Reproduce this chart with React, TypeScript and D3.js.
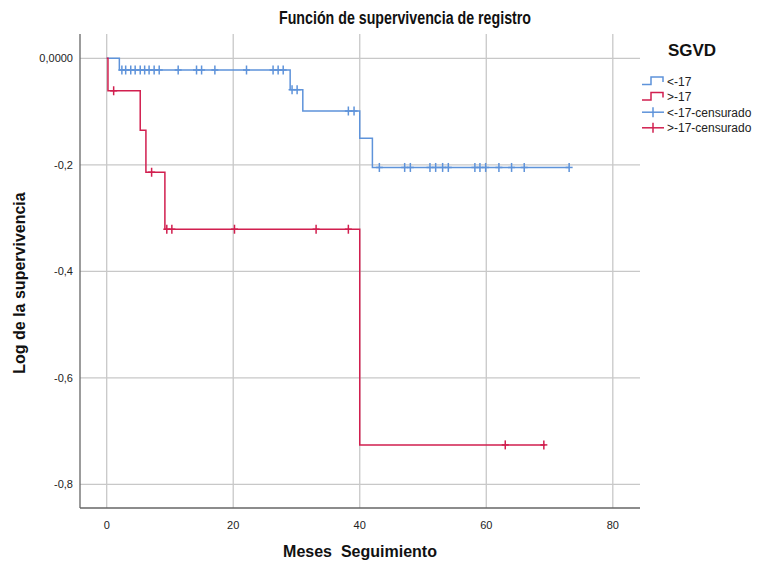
import * as d3 from "d3";
import React from "react";

// step functions (time in months, log survival)
const blueTimes = [0, 2, 29, 31, 40, 42];
const blueLevels = [0, -0.022, -0.059, -0.099, -0.15, -0.205];
const blueEnd = 73.1;
const blueCensored = [
  2.4, 3.0, 3.8, 4.5, 5.3, 6.0, 6.7, 7.5, 8.3, 11.3, 14.2, 15.0, 17.1, 22.1,
  26.3, 27.1, 27.9, 29.3, 30.1, 38.2, 39.1, 43.1, 47.1, 48.0, 51.1, 52.0, 53.1,
  54.0, 58.2, 59.0, 59.9, 62.0, 64.0, 66.0, 73.1,
];

const redTimes = [0, 0.2, 5.3, 6.2, 9.2, 40];
const redLevels = [0, -0.061, -0.135, -0.214, -0.321, -0.726];
const redEnd = 69.3;
const redCensored = [1.1, 7.1, 9.5, 10.3, 20.2, 33.1, 38.2, 63.0, 69.1];

const xTicks = [0, 20, 40, 60, 80];
const yTicks = [0, -0.2, -0.4, -0.6, -0.8];
const yTickLabels = ["0,0000", "-0,2", "-0,4", "-0,6", "-0,8"];

const legendLabels = ["<-17", ">-17", "<-17-censurado", ">-17-censurado"];

const BLUE = "#5e93da";
const RED = "#d11f4f";

const App = () => {
  const width = 766;
  const height = 572;
  const plot = { left: 80, right: 640, top: 34, bottom: 508 };

  const x = d3.scaleLinear().domain([-4.22, 84.3]).range([plot.left, plot.right]);
  const y = d3.scaleLinear().domain([0.0456, -0.8445]).range([plot.top, plot.bottom]);

  const line = d3
    .line<[number, number]>()
    .x((d) => x(d[0]))
    .y((d) => y(d[1]))
    .curve(d3.curveStepAfter);

  const stepPts = (times: number[], levels: number[], end: number) => {
    const pts: [number, number][] = times.map((t, i) => [t, levels[i]]);
    pts.push([end, levels[levels.length - 1]]);
    return pts;
  };

  const levelAt = (times: number[], levels: number[], t: number) => {
    let v = levels[0];
    times.forEach((tt, i) => {
      if (tt <= t) v = levels[i];
    });
    return v;
  };

  const series = [
    { times: blueTimes, levels: blueLevels, end: blueEnd, cens: blueCensored, color: BLUE },
    { times: redTimes, levels: redLevels, end: redEnd, cens: redCensored, color: RED },
  ];

  const font = "'Liberation Sans', Arial, sans-serif";

  return (
    <svg width={width} height={height} style={{ display: "block", margin: "-8px" }} fontFamily={font}>
      <rect width={width} height={height} fill="#fff" />

      {/* grid */}
      {xTicks.map((t) => (
        <line key={"gx" + t} x1={x(t)} x2={x(t)} y1={plot.top} y2={plot.bottom} stroke="#c8c8c8" strokeWidth={1.3} />
      ))}
      {yTicks.map((t) => (
        <line key={"gy" + t} x1={plot.left} x2={plot.right} y1={y(t)} y2={y(t)} stroke="#c8c8c8" strokeWidth={1.3} />
      ))}

      {/* axes */}
      <line x1={plot.left} x2={plot.left} y1={plot.top} y2={plot.bottom} stroke="#666" strokeWidth={1.3} />
      <line x1={plot.left} x2={plot.right} y1={plot.bottom} y2={plot.bottom} stroke="#666" strokeWidth={1.3} />

      {xTicks.map((t) => (
        <text key={"tx" + t} x={x(t)} y={plot.bottom + 21} textAnchor="middle" fontSize={11} fill="#222">
          {t}
        </text>
      ))}
      {yTicks.map((t, i) => (
        <text key={"ty" + t} x={plot.left - 7} y={y(t) + 4} textAnchor="end" fontSize={11} fill="#222">
          {yTickLabels[i]}
        </text>
      ))}

      {/* curves */}
      {series.map((s, i) => (
        <g key={"s" + i}>
          <path d={line(stepPts(s.times, s.levels, s.end)) || ""} fill="none" stroke={s.color} strokeWidth={1.5} />
          {s.cens.map((c, j) => {
            const cx = x(c);
            const cy = y(levelAt(s.times, s.levels, c));
            return (
              <g key={j} stroke={s.color} strokeWidth={1.5}>
                <line x1={cx} x2={cx} y1={cy - 4.5} y2={cy + 4.5} />
                <line x1={cx - 3.5} x2={cx + 3.5} y1={cy} y2={cy} />
              </g>
            );
          })}
        </g>
      ))}

      {/* titles */}
      <text
        x={405}
        y={24}
        textAnchor="middle"
        fontSize={17.5}
        fontWeight="bold"
        fill="#111"
        textLength={252}
        lengthAdjust="spacingAndGlyphs"
      >
        Función de supervivencia de registro
      </text>
      <text x={360} y={557} textAnchor="middle" fontSize={16} fontWeight="bold" fill="#111" style={{ whiteSpace: "pre" }}>
        {"Meses  Seguimiento"}
      </text>
      <text
        transform={`translate(25,${(plot.top + plot.bottom) / 2 + 12}) rotate(-90)`}
        textAnchor="middle"
        fontSize={16}
        fontWeight="bold"
        fill="#111"
      >
        Log de la supervivencia
      </text>

      {/* legend */}
      <text x={692} y={56} textAnchor="middle" fontSize={17} fontWeight="bold" fill="#111">
        SGVD
      </text>
      {legendLabels.map((lab, i) => {
        const ly = 81 + i * 15.6;
        const color = i % 2 === 0 ? BLUE : RED;
        return (
          <g key={lab}>
            {i < 2 ? (
              <path
                d={`M642,${ly + 3.5} H651 V${ly - 4} H663 V${ly + 1}`}
                fill="none"
                stroke={color}
                strokeWidth={1.5}
              />
            ) : (
              <g stroke={color} strokeWidth={1.5}>
                <line x1={642} x2={664} y1={ly} y2={ly} />
                <line x1={653} x2={653} y1={ly - 5} y2={ly + 5} />
              </g>
            )}
            <text x={667} y={ly + 4.5} fontSize={12} fill="#222">
              {lab}
            </text>
          </g>
        );
      })}
    </svg>
  );
};

export default App;
